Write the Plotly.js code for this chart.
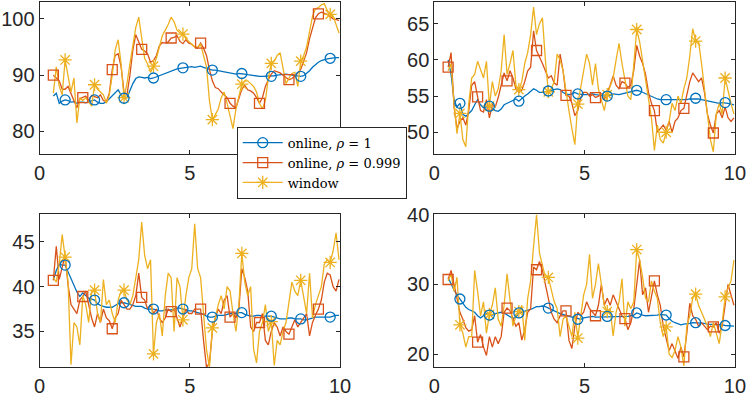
<!DOCTYPE html>
<html>
<head>
<meta charset="utf-8">
<script src="https://cdn.plot.ly/plotly-3.0.1.min.js"></script>
<style>html,body{margin:0;padding:0;background:#fff;}#plot{width:747px;height:398px;}</style>
</head>
<body>
<div id="plot"></div>
<script>
// ---------------- data ----------------
const nPts = 98, tStart = 0.46, tStep = 0.098;   // sampling grid of the signals
const xTicks = [0, 5, 10];
const seriesNames = ["online, <i>ρ</i> = 1", "online, <i>ρ</i> = 0.999", "window"];

// panel 1 (top-left)
const tl_online1 = [86.3,86.8,85.0,85.4,85.6,85.5,85.2,85.3,85.0,85.2,85.2,85.1,85.3,85.4,85.6,85.2,85.0,85.0,85.3,85.8,86.4,87.0,87.4,86.5,85.9,86.0,87.3,88.5,89.4,89.7,89.6,89.5,89.6,89.4,89.5,89.7,90.0,90.2,90.4,90.6,90.8,91.0,91.1,91.2,91.3,91.3,91.4,91.5,91.4,91.5,91.6,91.4,91.2,91.0,90.9,90.9,90.8,90.6,90.5,90.4,90.4,90.3,90.2,90.3,90.3,90.2,90.1,90.0,90.0,89.9,89.8,89.8,89.8,89.8,89.8,89.9,90.0,90.1,90.1,90.2,90.1,90.0,89.9,89.8,89.8,89.9,90.3,90.8,91.4,91.9,92.3,92.6,92.8,92.9,93.0,93.1,93.1,93.1];
const tl_online999 = [90.0,89.5,89.0,87.5,87.5,88.0,86.8,85.5,84.2,85.8,86.0,86.3,85.5,86.4,86.2,86.0,86.5,85.5,85.3,86.8,91.0,93.5,93.8,91.5,87.0,86.5,90.0,94.5,97.2,96.0,94.6,94.3,93.8,92.3,92.6,93.5,95.2,95.8,95.7,95.9,96.6,96.7,97.0,96.0,95.6,96.3,95.7,95.5,95.0,94.8,95.7,94.8,93.5,91.0,89.0,87.8,87.6,87.0,86.5,86.0,85.0,84.5,84.2,85.8,87.5,88.2,87.4,87.2,86.8,86.0,85.0,86.0,88.0,89.2,90.2,90.8,90.6,90.4,90.0,89.6,89.2,89.4,89.8,90.4,91.0,92.5,94.0,96.5,98.5,100.2,100.9,101.2,101.0,100.8,100.4,100.0,99.9,99.7];
const tl_window = [86.8,91.5,88.0,86.5,92.7,89.5,87.0,89.5,81.5,86.0,85.5,86.0,85.3,84.5,88.3,87.5,87.0,86.5,85.0,86.5,90.0,94.5,96.3,92.0,86.0,88.5,92.0,95.5,98.5,100.3,96.5,93.0,92.0,90.5,91.6,93.0,95.0,97.0,98.0,99.0,100.3,99.5,98.0,97.5,97.3,96.5,96.0,95.5,95.0,95.0,95.5,93.5,91.5,85.5,82.1,83.0,84.0,86.0,87.0,85.0,83.0,80.5,84.0,86.5,88.4,89.0,89.0,88.5,88.0,87.0,85.0,84.0,85.5,89.5,92.1,92.5,93.5,94.0,91.5,88.5,89.5,90.3,90.5,88.0,92.5,93.5,95.0,97.5,100.5,101.8,102.0,102.5,102.7,101.5,100.8,100.5,99.0,97.5];
const tl_yTicks = [80, 90, 100];

// panel 2 (top-right)
const tr_online1 = [60.0,58.0,54.5,53.5,54.0,52.5,52.2,52.6,53.0,53.8,54.5,53.8,53.4,53.5,53.6,53.3,53.0,52.9,53.2,53.8,54.0,54.2,54.4,54.6,54.3,54.7,55.0,55.3,55.6,56.0,55.8,55.5,55.5,55.6,55.7,55.8,55.9,56.0,55.9,55.5,55.3,55.2,55.3,55.5,55.3,55.2,55.2,55.2,55.3,55.3,55.2,55.2,55.1,55.0,55.0,55.1,55.3,55.2,55.2,55.3,55.4,55.5,55.6,55.7,55.8,55.7,55.5,55.3,55.2,55.0,54.8,54.6,54.5,54.5,54.5,54.4,54.4,54.4,54.5,54.5,54.5,54.5,54.6,54.6,54.7,54.6,54.5,54.4,54.3,54.2,54.1,54.1,54.0,54.1,54.1,54.0,53.9,53.8];
const tr_online999 = [59.0,61.0,53.5,50.5,51.5,52.0,51.0,53.0,56.5,57.0,54.9,53.0,52.8,54.5,52.0,53.8,53.5,54.8,56.5,58.2,57.1,58.5,57.5,56.0,55.5,55.8,57.0,58.5,59.0,64.0,61.3,60.5,59.5,58.5,57.5,57.8,56.8,56.5,60.8,58.5,55.1,55.0,54.0,52.3,53.0,54.8,55.5,55.5,55.0,55.2,54.8,55.0,55.3,54.5,55.5,56.5,57.8,56.5,56.0,57.0,56.8,56.2,56.5,58.5,62.0,60.5,59.5,58.0,55.5,54.0,53.0,50.0,50.5,51.0,50.3,51.5,50.0,51.5,52.0,53.0,53.3,55.0,57.0,58.2,57.5,57.0,57.5,55.5,52.5,51.0,49.9,52.5,53.0,52.0,53.5,52.0,51.5,52.0];
const tr_window = [58.5,59.5,54.0,49.8,52.6,49.0,48.0,54.0,57.5,58.0,59.8,58.5,57.5,59.8,53.6,57.0,55.0,56.0,58.5,63.5,58.0,59.5,61.3,56.5,55.9,57.0,59.5,61.0,63.5,67.3,63.5,65.0,65.8,60.0,55.6,56.0,57.0,60.8,60.0,58.5,55.5,53.0,50.5,48.3,53.9,56.0,58.5,60.8,59.5,56.5,59.5,56.0,54.5,53.0,55.2,56.5,57.5,60.0,62.3,59.5,57.0,55.0,54.5,60.0,64.2,62.5,60.0,57.5,55.0,52.0,47.5,51.0,49.0,48.5,50.0,51.5,54.0,53.0,55.0,54.0,56.0,57.5,60.5,64.3,62.6,62.5,59.5,56.0,53.0,49.0,47.3,52.5,54.0,52.5,57.5,55.5,54.0,52.5];
const tr_yTicks = [50, 55, 60, 65];

// panel 3 (bottom-left)
const bl_online1 = [40.8,41.8,42.5,42.4,42.4,41.6,40.8,40.0,39.4,38.9,39.3,39.0,38.7,38.6,38.5,38.1,37.9,37.8,37.7,37.7,37.7,37.9,38.1,38.2,38.2,38.1,38.0,37.9,37.8,37.8,37.8,37.6,37.5,37.5,37.5,37.4,37.3,37.3,37.4,37.4,37.4,37.5,37.6,37.6,37.5,37.4,37.3,37.3,37.2,37.1,37.0,36.9,36.7,36.6,36.6,36.7,36.8,36.8,36.8,36.9,37.0,37.0,37.0,37.1,37.1,36.9,36.8,36.7,36.7,36.8,36.8,36.7,36.7,36.7,36.7,36.6,36.5,36.4,36.4,36.4,36.5,36.5,36.4,36.4,36.4,36.3,36.3,36.4,36.5,36.6,36.6,36.6,36.6,36.6,36.6,36.7,36.8,36.8];
const bl_online999 = [40.7,44.5,40.8,42.0,43.5,40.2,38.0,37.5,37.0,38.5,38.9,39.5,38.0,36.5,35.5,37.0,36.0,37.5,36.5,36.2,35.3,36.5,37.0,38.5,38.0,37.5,37.5,38.0,39.0,41.5,38.8,38.5,37.5,38.0,37.0,37.5,36.5,36.0,36.5,37.5,37.2,37.5,36.5,35.5,36.5,37.5,37.0,37.0,37.5,37.5,37.5,34.0,31.0,31.5,35.0,36.5,37.5,37.0,38.5,39.0,36.6,37.0,36.5,37.5,42.0,41.0,39.5,35.5,35.0,36.0,36.0,37.0,34.0,33.5,35.0,36.0,35.5,34.5,35.5,35.0,34.7,35.5,36.3,35.5,36.0,36.5,37.0,34.5,36.0,36.8,37.5,38.5,40.5,41.5,41.3,40.0,39.5,40.8];
const bl_window = [41.0,40.5,42.5,45.8,43.3,40.5,31.3,36.0,35.5,33.5,39.0,38.0,36.0,39.5,39.6,37.0,36.0,40.8,38.0,38.5,37.0,36.0,38.5,39.5,39.6,38.5,38.0,39.0,41.0,43.0,47.2,43.5,42.0,43.0,32.5,36.0,37.0,34.5,39.0,41.5,41.0,35.0,41.0,40.0,36.3,39.0,41.0,42.0,47.0,42.0,41.0,37.0,33.0,31.0,35.4,36.5,38.0,39.0,37.5,40.0,39.5,37.0,35.0,38.0,43.7,40.5,39.0,40.0,33.0,31.5,35.0,36.0,38.0,35.0,36.1,31.2,34.0,33.5,35.0,36.0,38.0,40.5,39.5,39.0,40.7,39.0,37.0,41.5,36.5,38.0,39.0,40.0,42.5,43.0,42.7,44.0,46.0,43.0];
const bl_yTicks = [35, 40, 45];

// panel 4 (bottom-right)
const br_online1 = [31.0,30.0,29.2,28.5,27.9,27.3,26.7,26.4,26.2,26.0,25.5,25.2,25.5,25.8,25.6,25.6,25.8,25.9,26.0,25.9,25.6,25.3,25.1,25.3,25.9,26.0,26.2,26.3,26.4,26.6,26.8,26.8,26.9,26.8,26.6,26.4,26.1,25.9,25.8,25.7,25.5,25.4,25.3,25.2,25.0,25.0,25.2,25.3,25.4,25.4,25.3,25.3,25.3,25.4,25.4,25.4,25.3,25.3,25.3,25.3,25.4,25.4,25.5,25.6,25.9,25.7,25.6,25.5,25.5,25.5,25.6,25.6,25.7,25.7,25.6,25.1,24.7,24.5,24.3,24.2,24.3,24.3,24.4,24.5,24.5,24.5,24.5,24.4,24.3,24.3,24.2,24.2,24.2,24.2,24.1,24.1,24.0,24.0];
const br_online999 = [30.7,32.0,30.0,28.0,26.0,25.0,23.8,23.3,23.5,25.5,21.7,22.8,21.0,19.8,22.5,21.0,22.5,21.5,22.5,26.0,26.6,26.2,25.0,24.0,24.5,22.0,23.5,26.0,26.5,32.5,32.1,33.3,32.0,30.0,28.0,26.0,25.0,24.5,25.5,26.2,26.2,22.0,20.8,24.0,26.0,25.5,26.0,27.5,26.5,26.0,25.5,27.0,30.0,27.0,28.0,27.0,28.5,27.5,26.5,25.5,25.1,23.5,24.5,26.5,30.0,33.5,28.5,29.5,26.0,28.0,30.5,28.5,27.0,24.0,22.0,20.5,21.5,20.5,19.4,21.0,19.6,23.0,27.3,25.5,25.0,24.0,24.5,24.0,23.5,24.0,23.9,24.5,23.0,24.0,27.0,30.0,28.5,27.0];
const br_window = [30.5,31.5,29.0,31.0,24.2,23.0,21.0,22.5,22.5,32.0,29.0,25.5,27.5,23.0,25.7,27.0,29.5,25.0,24.0,27.0,31.5,28.0,24.0,25.5,26.1,27.0,22.0,28.0,30.5,35.5,40.0,34.5,32.5,31.0,31.0,29.0,27.5,26.5,22.5,25.0,25.5,24.0,22.5,26.0,22.3,25.5,28.5,30.0,34.3,28.0,30.0,33.0,30.0,27.0,26.1,26.5,22.6,26.0,27.5,30.8,24.0,27.5,26.5,27.5,35.0,33.5,31.0,28.0,27.5,30.5,29.0,28.0,24.5,22.5,23.9,20.0,19.5,20.5,22.5,21.0,18.3,24.0,25.5,28.0,28.6,27.0,26.0,25.0,24.0,22.5,24.5,23.0,21.5,24.5,28.2,29.5,30.5,33.5];
const br_yTicks = [20, 30, 40];

// ---------------- drawing ----------------
const xs = Array.from({length: nPts}, (_, i) => tStart + tStep * i);
const colors = ["#0072BD", "#D95319", "#EDB120"];
const symbols = ["circle-open", "square-open", "asterisk-open"];
const markerOffset = [4, 0, 4];   // which samples carry a marker (every 10th)

const panels = [
  {ax: "", data: [tl_online1, tl_online999, tl_window], yr: [76, 103], yt: tl_yTicks},
  {ax: "2", data: [tr_online1, tr_online999, tr_window], yr: [47, 68], yt: tr_yTicks},
  {ax: "3", data: [bl_online1, bl_online999, bl_window], yr: [31, 48.1], yt: bl_yTicks},
  {ax: "4", data: [br_online1, br_online999, br_window], yr: [18.1, 40.1], yt: br_yTicks}
];

const traces = [];
panels.forEach(p => {
  const xa = "x" + p.ax, ya = "y" + p.ax;
  p.data.forEach((ys, k) => {
    traces.push({x: xs, y: ys, xaxis: xa, yaxis: ya, type: "scatter", mode: "lines",
      line: {color: colors[k], width: 1.3}, showlegend: false, hoverinfo: "skip"});
  });
  [1, 2, 0].forEach(k => {
    const ys = p.data[k];
    const mx = [], my = [];
    ys.forEach((v, i) => { if (i % 10 === markerOffset[k]) { mx.push(xs[i]); my.push(v); } });
    traces.push({x: mx, y: my, xaxis: xa, yaxis: ya, type: "scatter", mode: "markers",
      marker: {symbol: symbols[k], size: k === 2 ? 11 : 10, color: colors[k], line: {color: colors[k], width: 1.3}},
      showlegend: false, hoverinfo: "skip"});
  });
});
// legend entries (line + marker, as in the original)
[0, 1, 2].forEach(k => {
  traces.push({x: [null], y: [null], xaxis: "x", yaxis: "y", type: "scatter", mode: "lines+markers",
    name: seriesNames[k], line: {color: colors[k], width: 1.3},
    marker: {symbol: symbols[k], size: k === 2 ? 11 : 10, color: colors[k], line: {color: colors[k], width: 1.3}}});
});

const axFont = {family: "Liberation Sans, Arial, sans-serif", size: 20, color: "#262626"};
function axis(extra) {
  return Object.assign({
    showline: true, linecolor: "#262626", linewidth: 1, mirror: "ticks",
    ticks: "inside", ticklen: 4, tickcolor: "#262626", tickwidth: 1,
    showgrid: false, zeroline: false, tickfont: axFont, fixedrange: true
  }, extra);
}

const xd = [[0.0529, 0.4552], [0.5814, 0.9839]];
const yd = [[0.6131, 0.995], [0.0771, 0.4623]];

const layout = {
  width: 747, height: 398,
  margin: {l: 0, r: 0, t: 0, b: 0},
  paper_bgcolor: "#ffffff", plot_bgcolor: "#ffffff",
  showlegend: true,
  legend: {x: 0.3169, y: 0.6817, xanchor: "left", yanchor: "top",
    bgcolor: "#ffffff", bordercolor: "#262626", borderwidth: 1,
    font: {family: "DejaVu Serif, Liberation Serif, serif", size: 13, color: "#000000"},
    tracegroupgap: 0, itemwidth: 40},
  xaxis:  axis({domain: xd[0], anchor: "y",  range: [0, 10], tickvals: xTicks, ticklabelstandoff: 1}),
  yaxis:  axis({domain: yd[0], anchor: "x",  range: panels[0].yr, tickvals: panels[0].yt}),
  xaxis2: axis({domain: xd[1], anchor: "y2", range: [0, 10], tickvals: xTicks, ticklabelstandoff: 1}),
  yaxis2: axis({domain: yd[0], anchor: "x2", range: panels[1].yr, tickvals: panels[1].yt}),
  xaxis3: axis({domain: xd[0], anchor: "y3", range: [0, 10], tickvals: xTicks, ticklabelstandoff: 1}),
  yaxis3: axis({domain: yd[1], anchor: "x3", range: panels[2].yr, tickvals: panels[2].yt}),
  xaxis4: axis({domain: xd[1], anchor: "y4", range: [0, 10], tickvals: xTicks, ticklabelstandoff: 1}),
  yaxis4: axis({domain: yd[1], anchor: "x4", range: panels[3].yr, tickvals: panels[3].yt})
};

Plotly.newPlot("plot", traces, layout, {displayModeBar: false, staticPlot: true});
</script>
</body>
</html>
